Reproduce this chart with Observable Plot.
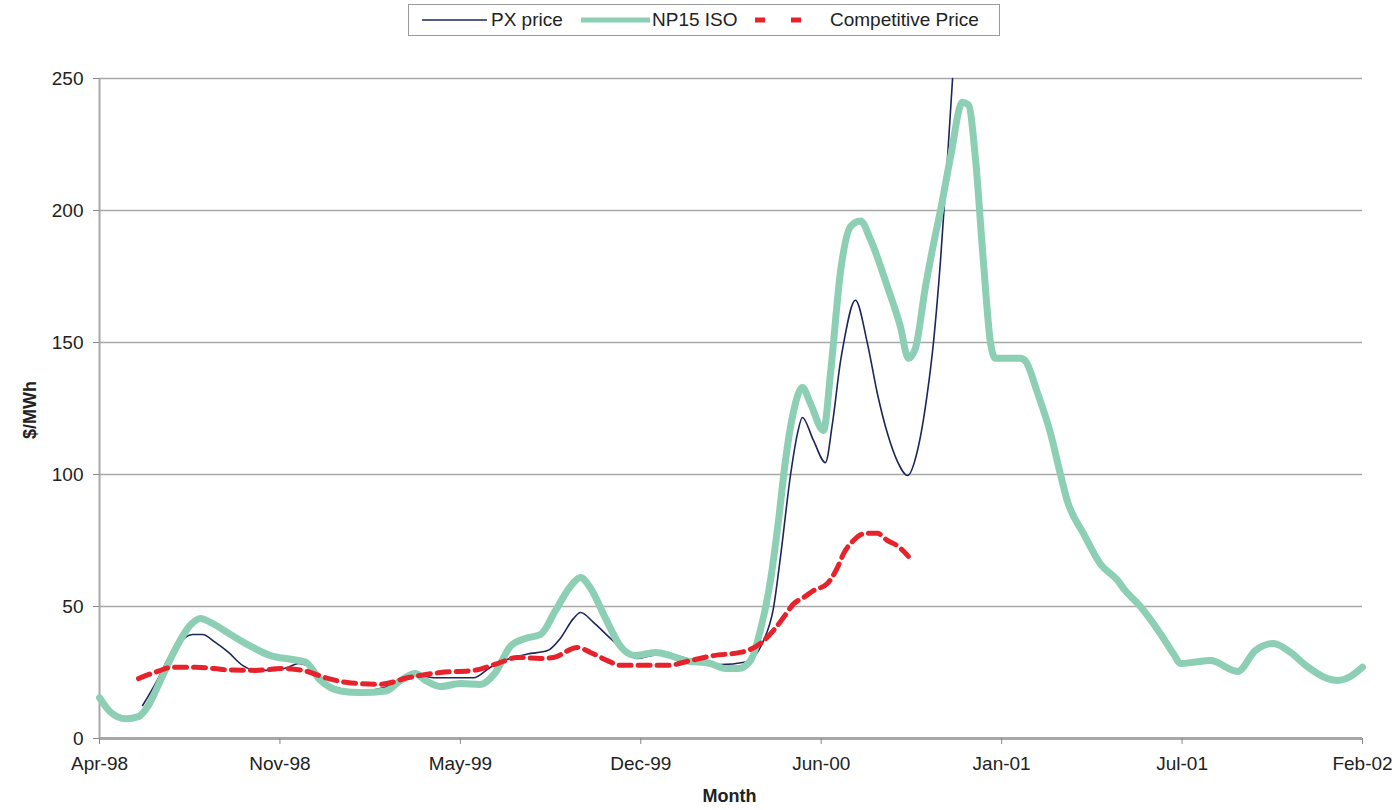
<!DOCTYPE html>
<html>
<head>
<meta charset="utf-8">
<script src="https://cdn.jsdelivr.net/npm/d3@7"></script>
<script src="https://cdn.jsdelivr.net/npm/@observablehq/plot@0.6"></script>
<style>
  html, body { margin: 0; padding: 0; background: #fff; }
  body { width: 1396px; height: 810px; position: relative; overflow: hidden; font-family: "Liberation Sans", Arial, sans-serif; color: #222; }
  #legend { position: absolute; left: 408px; top: 4px; width: 592px; height: 32px; border: 1.5px solid #9a9a9a; box-sizing: border-box; }
  .lg { position: absolute; top: 0; height: 29px; line-height: 29px; font-size: 19px; white-space: nowrap; }
  .sw { position: absolute; top: 0; }
  #chart { position: absolute; left: 0; top: 40px; }
  #xtitle { position: absolute; top: 786px; left: 0; width: 1396px; padding-left: 63px; box-sizing: border-box; text-align: center; font-weight: bold; font-size: 18px; }
  #ytitle { position: absolute; left: 30px; top: 410px; transform: translate(-50%, -50%) rotate(-90deg); font-weight: bold; font-size: 18px; white-space: nowrap; }
</style>
</head>
<body>
<div id="legend"></div>
<div id="chart"></div>
<div id="xtitle">Month</div>
<div id="ytitle">$/MWh</div>
<script>
// x = months since Apr-98 (axis is evenly spaced category axis, 46 months)
const tickLabels = ["Apr-98","Nov-98","May-99","Dec-99","Jun-00","Jan-01","Jul-01","Feb-02"];
const yTicks = [0, 50, 100, 150, 200, 250];

const npMonth = [0,0.40,0.95,1.42,1.78,2.22,2.77,3.31,3.68,4.04,4.77,5.50,6.23,6.96,7.50,8.05,8.78,9.51,10.42,10.97,11.51,11.87,12.42,13.15,13.87,14.42,14.97,15.51,16.06,16.61,17.15,17.52,17.88,18.43,18.97,19.52,20.25,20.79,21.34,22.25,22.80,23.27,23.71,24.07,24.44,24.73,24.98,25.28,25.60,25.89,26.37,26.63,26.99,27.36,27.72,28.08,28.70,29.17,29.46,29.72,30.08,30.37,30.63,30.99,31.43,31.65,31.90,32.19,32.45,32.63,33.18,33.54,33.72,34.16,34.64,35.00,35.25,35.84,36.46,37.07,37.36,37.91,38.64,39.12,39.37,39.92,40.46,41.45,42.10,42.76,43.38,43.93,44.73,45.09,45.56,46.0];
const npValue = [15.5,10,7.5,8.3,12.5,22,34,43,45.5,44,39.4,35,31.4,30,29,22,18,17.4,18,22,24.6,22,19.7,20.8,20.5,25,35,37.9,39.4,48.5,57.6,61,57,45.5,35,31.4,32.6,31.4,29.5,28.4,26.5,26.5,29.5,41,60,82.6,105,124,133,127,116.7,139,177,194,196,189,171,156,144,148,171,187,200,220,241,240,220,181,150,144,144,144,143,131,115.5,100,90,77.6,66,60,56,50,39.7,32,28.4,29,29.5,25.4,33.3,36,32.6,27.7,22.7,22,23.5,27];

const pxMonth = [1.57,2.15,2.48,2.77,3.39,3.75,4.22,4.70,5.21,5.68,6.41,6.88,7.25,7.68,8.41,9.51,10.60,11.51,12.24,13.62,14.24,14.86,15.59,16.32,16.79,17.26,17.52,17.99,18.50,18.97,19.59,20.07,20.69,21.52,22.61,23.53,24.18,24.55,24.80,25.17,25.42,25.60,26.00,26.44,26.69,26.99,27.10,27.53,27.97,28.33,28.70,29.06,29.43,29.79,30.15,30.37,30.63,30.88,31.07];
const pxValue = [12.5,23,30,34.5,39.4,39.4,36.4,32.6,27.7,25.8,25.8,27,28.4,27,20,18,20,24,23,23,27,30,32,33.3,38,45.4,47.7,44,39,34.5,30.3,31.4,32,30,28,29,37,49.6,68.6,100,115.5,121.6,113,104.5,119,143,149.6,166,149.6,130.7,115.5,105,99.6,109,130.7,149.6,181,219,250];

const cpMonth = [1.42,2.11,2.66,3.50,4.70,5.68,6.66,7.39,8.34,9.03,10.23,11.22,12.42,13.62,14.49,15.22,16.06,16.53,17.41,17.88,18.50,18.97,19.45,20.69,21.52,22.36,23.34,24.07,24.55,24.91,25.28,25.64,26.00,26.51,26.88,27.10,27.46,27.90,28.33,28.70,29.06,29.46];
const cpValue = [22.7,25.4,27,27,26,25.8,26.5,25.8,22.7,21.2,20.5,23,25,25.8,28.4,30.7,30.3,30.7,34.5,32.6,29.5,27.7,27.7,27.7,29.5,31.4,32.6,36,41,45.8,51,53.4,56,58.7,64.8,70,75,77.7,77.7,75,73,69];

const colors = { px: "#1c2658", np: "#8ccfb5", cp: "#e8222b" };

const np = npMonth.map((m, i) => ({m, v: npValue[i]}));
const px = pxMonth.map((m, i) => ({m, v: pxValue[i]}));
const cp = cpMonth.map((m, i) => ({m, v: cpValue[i]}));

const nMonths = 46;
const tickPos = tickLabels.map((d, i) => i * nMonths / (tickLabels.length - 1));
const fmtX = d => tickLabels[Math.round(d * (tickLabels.length - 1) / nMonths)];

const chart = Plot.plot({
  width: 1396,
  height: 770,
  marginLeft: 99,
  marginRight: 34,
  marginTop: 38,
  marginBottom: 72,
  style: { fontFamily: "'Liberation Sans', Arial, sans-serif", fontSize: "19px", color: "#222", background: "white", overflow: "visible" },
  x: { domain: [0, nMonths], label: null },
  y: { domain: [0, 250], label: null },
  marks: [
    Plot.ruleY(yTicks.filter(d => d > 0), { stroke: "#a8a8a8", strokeWidth: 1.6 }),
    Plot.ruleX([0], { stroke: "#a8a8a8", strokeWidth: 2 }),
    Plot.ruleY([0], { stroke: "#a8a8a8", strokeWidth: 3 }),
    Plot.axisX({ ticks: tickPos, tickFormat: fmtX, tickSize: 6, tickPadding: 12, stroke: "#888", label: null, fill: "#222" }),
    Plot.axisY({ ticks: yTicks, tickSize: 6, tickPadding: 10, stroke: "#888", label: null, fill: "#222" }),
    Plot.line(px, { x: "m", y: "v", stroke: colors.px, strokeWidth: 1.6, curve: "monotone-x" }),
    Plot.line(np, { x: "m", y: "v", stroke: colors.np, strokeWidth: 7, curve: "monotone-x", strokeLinejoin: "round" }),
    Plot.line(cp, { x: "m", y: "v", stroke: colors.cp, strokeWidth: 5, strokeDasharray: "12,7", curve: "monotone-x" })
  ]
});
document.getElementById("chart").appendChild(chart);

// Legend
const legend = document.getElementById("legend");
const L = 408;
function swatch(x0, x1, stroke, width, dash) {
  const s = document.createElementNS("http://www.w3.org/2000/svg", "svg");
  s.setAttribute("class", "sw");
  s.setAttribute("width", x1 - x0);
  s.setAttribute("height", 29);
  s.style.left = (x0 - L) + "px";
  const ln = document.createElementNS("http://www.w3.org/2000/svg", "line");
  ln.setAttribute("x1", 0); ln.setAttribute("x2", x1 - x0);
  ln.setAttribute("y1", 15); ln.setAttribute("y2", 15);
  ln.setAttribute("stroke", stroke);
  ln.setAttribute("stroke-width", width);
  if (dash) ln.setAttribute("stroke-dasharray", dash);
  s.appendChild(ln);
  legend.appendChild(s);
}
function label(x0, text) {
  const d = document.createElement("div");
  d.className = "lg";
  d.style.left = (x0 - L) + "px";
  d.textContent = text;
  legend.appendChild(d);
}
swatch(421, 486, colors.px, 1.6);
label(490, "PX price");
swatch(580, 649, colors.np, 5);
label(651, "NP15 ISO");
swatch(754, 800, colors.cp, 5, "10,26");
label(829, "Competitive Price");
</script>
</body>
</html>
